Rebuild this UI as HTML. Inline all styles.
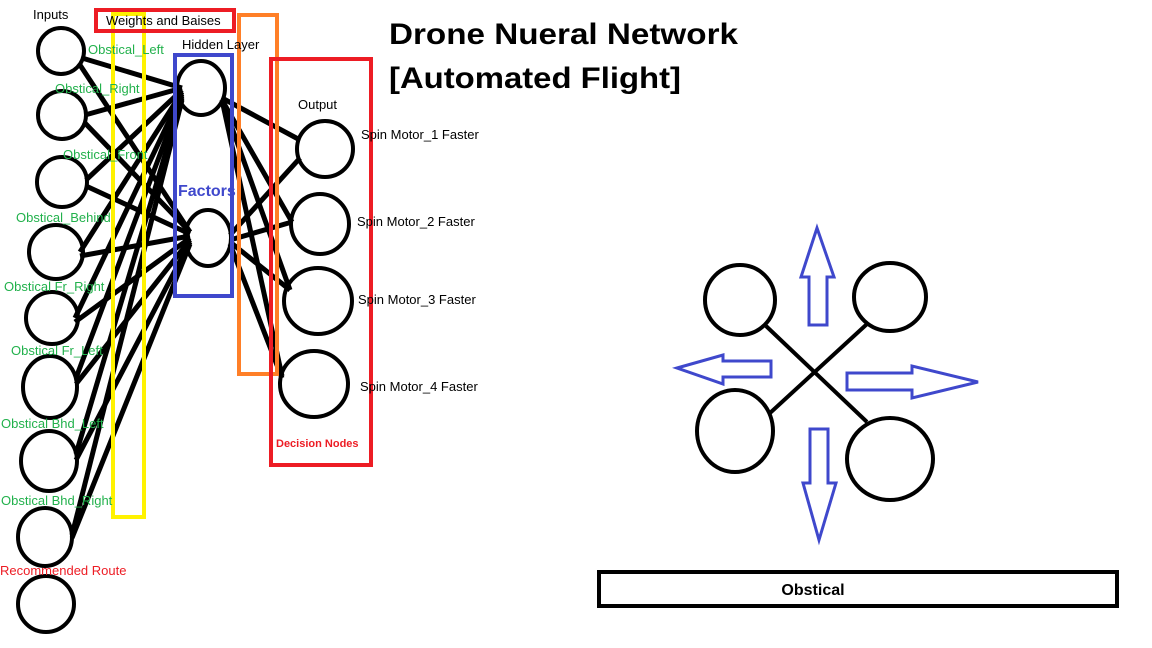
<!DOCTYPE html>
<html><head><meta charset="utf-8"><style>
html,body{margin:0;padding:0;background:#fff;}
svg{display:block;}
text{font-family:"Liberation Sans",sans-serif;}
</style></head><body>
<svg width="1152" height="648" viewBox="0 0 1152 648" xmlns="http://www.w3.org/2000/svg">
<rect width="1152" height="648" fill="#fff"/>
<g stroke="#000" stroke-width="5" fill="none">
<line x1="82" y1="58" x2="182" y2="88"/><line x1="80" y1="65" x2="190" y2="232"/>
<line x1="85" y1="115" x2="182" y2="88"/><line x1="84" y1="122" x2="190" y2="232"/>
<line x1="86" y1="180" x2="182" y2="90"/><line x1="86" y1="186" x2="190" y2="234"/>
<line x1="80" y1="252" x2="182" y2="92"/><line x1="80" y1="256" x2="190" y2="236"/>
<line x1="75" y1="318" x2="182" y2="94"/><line x1="75" y1="322" x2="190" y2="238"/>
<line x1="76" y1="378" x2="182" y2="96"/><line x1="76" y1="384" x2="190" y2="240"/>
<line x1="76" y1="454" x2="182" y2="98"/><line x1="76" y1="460" x2="190" y2="242"/>
<line x1="72" y1="535" x2="182" y2="100"/><line x1="72" y1="538" x2="190" y2="244"/>
<line x1="222" y1="98" x2="300" y2="140"/><line x1="222" y1="100" x2="292" y2="222"/>
<line x1="222" y1="100" x2="290" y2="290"/><line x1="222" y1="100" x2="282" y2="376"/>
<line x1="230" y1="235" x2="300" y2="158"/><line x1="230" y1="240" x2="292" y2="222"/>
<line x1="230" y1="242" x2="290" y2="290"/><line x1="230" y1="244" x2="282" y2="378"/>
</g>
<g stroke="#000" stroke-width="4" fill="none">
<ellipse cx="61" cy="51" rx="23" ry="23"/>
<ellipse cx="62" cy="115" rx="24" ry="24"/>
<ellipse cx="62" cy="182" rx="25" ry="25"/>
<ellipse cx="56" cy="252" rx="27" ry="27"/>
<ellipse cx="52" cy="318" rx="26" ry="26"/>
<ellipse cx="50" cy="387" rx="27" ry="31"/>
<ellipse cx="49" cy="461" rx="28" ry="30"/>
<ellipse cx="45" cy="537" rx="27" ry="29"/>
<ellipse cx="46" cy="604" rx="28" ry="28"/>
<ellipse cx="201" cy="88" rx="24" ry="27"/>
<ellipse cx="208" cy="238" rx="23" ry="28"/>
<ellipse cx="325" cy="149" rx="28" ry="28"/>
<ellipse cx="320" cy="224" rx="29" ry="30"/>
<ellipse cx="318" cy="301" rx="34" ry="33"/>
<ellipse cx="314" cy="384" rx="34" ry="33"/>
</g>
<rect x="113" y="14" width="31" height="503" fill="none" stroke="#fff200" stroke-width="4"/>
<rect x="96" y="10" width="138" height="21" fill="none" stroke="#ed1c24" stroke-width="4"/>
<rect x="175" y="55" width="57" height="241" fill="none" stroke="#3f48cc" stroke-width="4"/>
<rect x="239" y="15" width="38" height="359" fill="none" stroke="#ff7f27" stroke-width="4"/>
<rect x="271" y="59" width="100" height="406" fill="none" stroke="#ed1c24" stroke-width="4"/>
<g font-size="13" fill="#000">
<text x="33" y="19">Inputs</text>
<text x="106" y="25">Weights and Baises</text>
<text x="182" y="49">Hidden Layer</text>
<text x="298" y="109">Output</text>
<text x="361" y="139">Spin Motor_1 Faster</text>
<text x="357" y="226">Spin Motor_2 Faster</text>
<text x="358" y="304">Spin Motor_3 Faster</text>
<text x="360" y="391">Spin Motor_4 Faster</text>
</g>
<g font-size="13" fill="#22b14c">
<text x="88" y="54">Obstical_Left</text>
<text x="55" y="93">Obstical_Right</text>
<text x="63" y="159">Obstical_Front</text>
<text x="16" y="222">Obstical_Behind</text>
<text x="4" y="291">Obstical Fr_Right</text>
<text x="11" y="355">Obstical Fr_Left</text>
<text x="1" y="428">Obstical Bhd_Left</text>
<text x="1" y="505">Obstical Bhd_Right</text>
</g>
<text x="0" y="575" font-size="13" fill="#ed1c24">Recommended Route</text>
<text x="276" y="447" font-size="11" font-weight="bold" fill="#ed1c24">Decision Nodes</text>
<text x="178" y="196" font-size="16" font-weight="bold" fill="#3f48cc">Factors</text>
<text x="389" y="44" font-size="30" font-weight="bold" textLength="349" lengthAdjust="spacingAndGlyphs">Drone Nueral Network</text>
<text x="389" y="88" font-size="30" font-weight="bold" textLength="292" lengthAdjust="spacingAndGlyphs">[Automated Flight]</text>
<g stroke="#000" stroke-width="4" fill="none">
<line x1="766" y1="326" x2="867" y2="422"/>
<line x1="867" y1="324" x2="770" y2="413"/>
<ellipse cx="740" cy="300" rx="35" ry="35"/>
<ellipse cx="890" cy="297" rx="36" ry="34"/>
<ellipse cx="735" cy="431" rx="38" ry="41"/>
<ellipse cx="890" cy="459" rx="43" ry="41"/>
</g>
<g stroke="#3f48cc" stroke-width="3" fill="none">
<polygon points="817,228 834,277 827,277 827,325 809,325 809,277 801,277"/>
<polygon points="677,368 723,355 723,361 771,361 771,377 723,377 723,384"/>
<polygon points="978,382 912,366 912,373 847,373 847,390 912,390 912,398"/>
<polygon points="819,540 836,483 828,483 828,429 810,429 810,483 803,483"/>
</g>
<rect x="599" y="572" width="518" height="34" fill="none" stroke="#000" stroke-width="4"/>
<text x="813" y="595" font-size="16" font-weight="bold" text-anchor="middle">Obstical</text>
</svg>
</body></html>
